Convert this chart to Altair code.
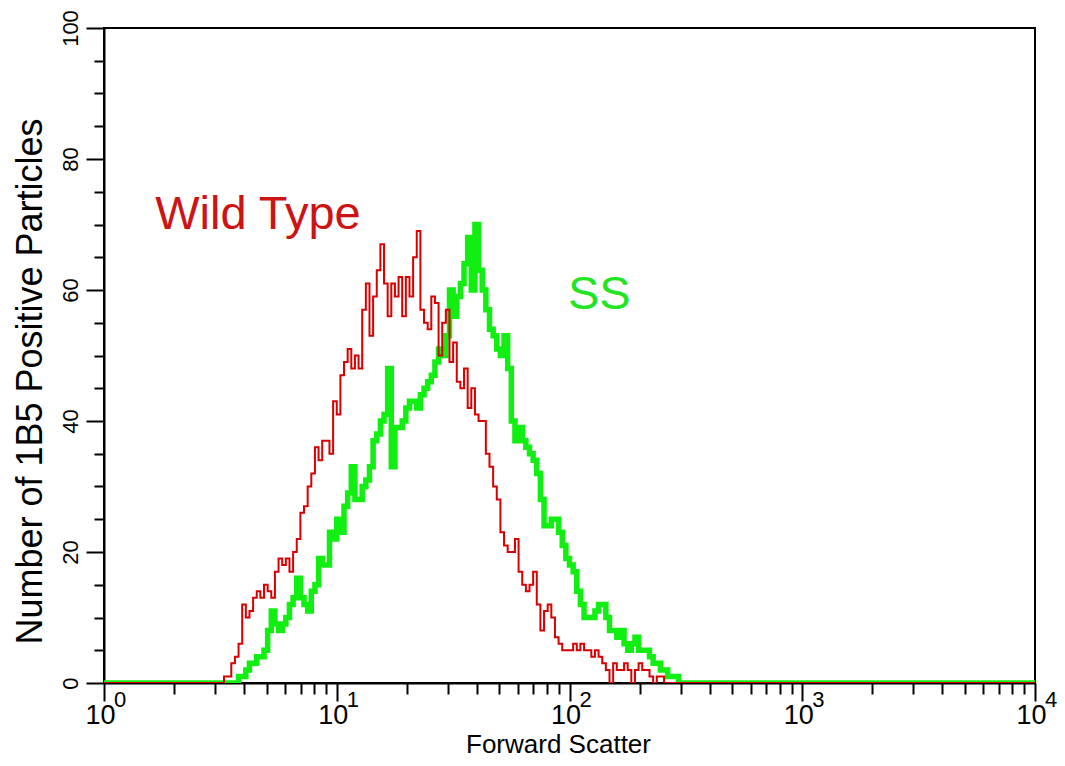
import altair as alt
import pandas as pd

FONT = "Liberation Sans"
RED = "#D80000"
GREEN = "#11EE11"

N_CHANNELS = 256
CH_PER_DECADE = 64

# Wild Type histogram counts, starting at channel 33
wt_start = 33
wt_counts = [1, 1, 3, 4, 6, 12, 10, 11, 13, 14, 13, 15, 14, 13, 17, 19, 18, 19, 17, 20,
             22, 26, 27, 30, 32, 36, 34, 37, 37, 35, 43, 41, 47, 49, 51, 48, 50, 48, 57, 61,
             53, 59, 63, 67, 61, 56, 61, 59, 62, 56, 62, 59, 65, 69, 57, 55, 54, 59, 58, 50,
             55, 57, 49, 52, 46, 45, 48, 42, 45, 41, 40, 40, 35, 33, 30, 28, 23, 21, 20, 20,
             22, 17, 15, 14, 15, 17, 12, 8, 11, 12, 10, 7, 6, 5, 5, 5, 6, 5, 6, 5,
             5, 4, 5, 4, 3, 2, 0, 3, 2, 2, 3, 2, 0, 2, 3, 2, 2, 1, 0, 1, 1]

# SS histogram counts, starting at channel 37
ss_start = 37
ss_counts = [1, 1, 2, 3, 3, 4, 4, 5, 8, 11, 9, 8, 9, 10, 12, 13, 16, 13, 12, 11,
             14, 15, 19, 18, 18, 23, 22, 25, 23, 27, 29, 33, 28, 28, 30, 31, 33, 37, 38, 40,
             41, 48, 33, 39, 39, 40, 42, 43, 43, 42, 44, 45, 46, 47, 49, 51, 50, 53, 60, 56,
             59, 61, 64, 68, 60, 70, 63, 60, 57, 54, 53, 51, 50, 53, 48, 40, 37, 39, 37, 36,
             35, 34, 32, 28, 24, 24, 25, 25, 23, 21, 19, 18, 17, 14, 12, 10, 10, 10, 11, 12,
             12, 10, 8, 8, 7, 8, 6, 5, 6, 7, 5, 5, 5, 4, 3, 3, 2, 2, 1, 1, 1]

x_major = [1, 10, 100, 1000, 10000]
x_minor = [m * d for d in [1, 10, 100, 1000] for m in range(2, 10)]
exp_labels = ["0", "1", "2", "3", "4"]
y_major = [0, 20, 40, 60, 80, 100]
y_minor = [v for v in range(5, 100, 5) if v % 20 != 0]

ann_text = ["Wild Type", "SS"]
ann_x = [1.66, 98.5]
ann_y = [71.5, 59.2]
ann_color = ["#CC1414", "#22E522"]


def series(start, counts, name):
    vals = [0] * N_CHANNELS
    vals[start:start + len(counts)] = counts
    vals.append(0)
    return pd.DataFrame({
        "fsc": [10 ** (i / CH_PER_DECADE) for i in range(N_CHANNELS + 1)],
        "count": vals,
        "series": name,
    })


wt_df = series(wt_start, wt_counts, "Wild Type")
ss_df = series(ss_start, ss_counts, "SS")

x_scale = alt.Scale(type="log", domain=[1, 10000], nice=False)
y_scale = alt.Scale(domain=[0, 100], nice=False, zero=True)

major_x_axis = alt.Axis(
    orient="bottom", values=x_major, labelExpr="'10'",
    tickSize=18, tickWidth=2, tickColor="black",
    domain=True, domainWidth=2, domainColor="black",
    labelFont=FONT, labelFontSize=27, labelColor="black", labelPadding=1,
    labelBaseline="top", labelAlign="center", labelOffset=-4,
    labelFlush=False, labelOverlap=False, grid=False,
    title="Forward Scatter", titleFont=FONT, titleFontSize=26, titleFontWeight="normal",
    titleColor="black", titleX=454, titleY=69, titleAlign="center", titleBaseline="alphabetic",
)
minor_x_axis = alt.Axis(
    orient="bottom", values=x_minor, labels=False, tickSize=11, tickWidth=2,
    tickColor="black", domain=False, grid=False, title=None,
)
major_y_axis = alt.Axis(
    orient="left", values=y_major, tickSize=18, tickWidth=2, tickColor="black",
    domain=True, domainWidth=2, domainColor="black",
    labelFont=FONT, labelFontSize=22, labelColor="black", labelAngle=270,
    labelAlign="center", labelBaseline="middle", labelPadding=16,
    labelFlush=False, labelOverlap=False, grid=False,
    title="Number of 1B5 Positive Particles", titleFont=FONT, titleFontSize=36,
    titleFontWeight="normal", titleColor="black", titleAngle=270,
    titleX=-74, titleY=353, titleAlign="center", titleBaseline="middle",
)
minor_y_axis = alt.Axis(
    orient="left", values=y_minor, labels=False, tickSize=10, tickWidth=2,
    tickColor="black", domain=False, grid=False, title=None,
)

green = alt.Chart(ss_df).mark_line(
    interpolate="step-after", color=GREEN, strokeWidth=5.5, clip=True
).encode(
    x=alt.X("fsc:Q", scale=x_scale, axis=minor_x_axis),
    y=alt.Y("count:Q", scale=y_scale, axis=minor_y_axis),
)

red = alt.Chart(wt_df).mark_line(
    interpolate="step-after", color=RED, strokeWidth=2, clip=True
).encode(
    x=alt.X("fsc:Q", scale=x_scale, axis=major_x_axis),
    y=alt.Y("count:Q", scale=y_scale, axis=major_y_axis),
)

ann_df = pd.DataFrame({"text": ann_text, "x": ann_x, "y": ann_y, "color": ann_color})
ann = alt.Chart(ann_df).mark_text(
    font=FONT, fontSize=47, align="left", baseline="middle"
).encode(
    x=alt.X("x:Q", scale=x_scale, axis=None),
    y=alt.Y("y:Q", scale=y_scale, axis=None),
    text="text:N",
    color=alt.Color("color:N", scale=None),
)

exp_df = pd.DataFrame({"pos": x_major, "exp": exp_labels})
exps = alt.Chart(exp_df).mark_text(
    font=FONT, fontSize=22, align="center", baseline="middle", dx=16, color="black"
).encode(
    x=alt.X("pos:Q", scale=x_scale, axis=None),
    y=alt.value(672),
    text="exp:N",
)

chart = alt.layer(green, red, ann, exps).resolve_axis(
    x="independent", y="independent"
).properties(
    width=931, height=655,
    autosize=alt.AutoSizeParams(type="none"),
    padding={"left": 96, "top": 20, "right": 22, "bottom": 75},
    background="white",
).configure_view(stroke="black", strokeWidth=2)

chart.save("out.html", embed_options={"renderer": "svg", "actions": False})
